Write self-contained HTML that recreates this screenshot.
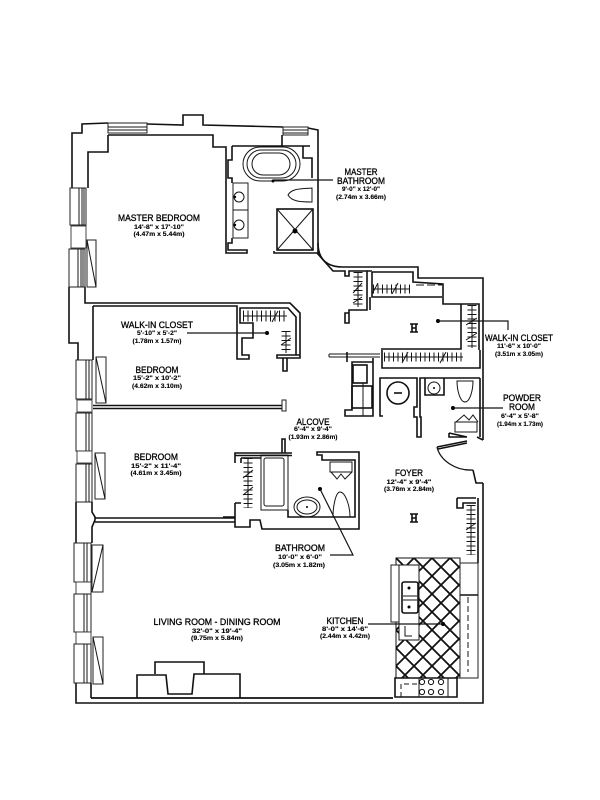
<!DOCTYPE html>
<html><head><meta charset="utf-8"><style>
html,body{margin:0;padding:0;background:#fff;width:600px;height:800px;overflow:hidden}
svg{display:block;filter:blur(.3px)}
.w{fill:none;stroke:#111;stroke-width:1.6;stroke-linejoin:miter}
.t{fill:none;stroke:#151515;stroke-width:1}
.b{fill:#fff;stroke:#222;stroke-width:1}
.p{fill:#fff;stroke:#333;stroke-width:.9}
.r{fill:none;stroke:#151515;stroke-width:9;stroke-dasharray:1 3.5}
.r2{fill:none;stroke:#151515;stroke-width:1}
text{font-family:"Liberation Sans",sans-serif;fill:#000;text-anchor:middle}
.h{font-size:9px;stroke:#000;stroke-width:.3}
.s{font-size:6px;font-weight:bold;stroke:#000;stroke-width:.1}
</style></head><body>
<svg width="600" height="800" viewBox="0 0 600 800" xmlns="http://www.w3.org/2000/svg">
<defs><pattern id="x" width="18" height="18" patternUnits="userSpaceOnUse" patternTransform="translate(396 558)">
<path d="M0 0L18 18M18 0L0 18" stroke="#111" stroke-width="1.8" fill="none"/></pattern></defs>
<rect width="600" height="800" fill="#fff"/>

<!-- outer walls -->
<path class="w" d="M72 188V133H82V124L108 123M147 124L183 125V115H203V125L283 127M308 128L318 130V243Q318 267 343 267H418V278H483V440M483 483V703H76V683M76 502V543M69 287V343H78V360"/>
<path class="w" d="M473 470L476 483H483"/>
<path class="w" style="stroke-width:1.8" d="M91 698H393"/>
<!-- master bedroom inner -->
<path class="w" d="M108 135V152H88V188M108 135H213V147H226V253H247V250H228V243H232V238M85 287V303H290L300 313V355H277V358H300V355"/>
<path class="w" d="M93 306H237V359H249V355H242V338H253V323H240V308H288L296 317V355M93 306V360M283 358V371H287V358"/>

<!-- master bedroom windows -->
<rect class="b" x="70" y="188" width="16" height="37"/><path class="t" d="M79 188V225M82 188V225M84 188V225"/>
<rect class="p" x="71" y="226" width="15" height="22"/>
<rect class="b" x="69" y="249" width="16" height="38"/><path class="t" d="M78 249V287M81 249V287M83 249V287"/>
<rect class="b" x="87" y="240" width="9" height="47"/><path class="t" d="M87 240L96 287"/>
<rect class="b" x="108" y="123" width="39" height="10"/><path class="t" d="M108 127H147M108 130H147"/>
<rect class="b" x="283" y="127" width="25" height="8"/><path class="t" d="M283 130H308M283 133H308"/>

<!-- bedroom windows -->
<rect class="b" x="76" y="360" width="16" height="39"/><path class="t" d="M86 360V399M89 360V399"/>
<rect class="p" x="77" y="400" width="15" height="12"/>
<rect class="b" x="76" y="413" width="16" height="38"/><path class="t" d="M86 413V451M89 413V451"/>
<rect class="p" x="77" y="451" width="15" height="12"/>
<rect class="b" x="76" y="464" width="16" height="38"/><path class="t" d="M86 464V502M89 464V502"/>
<rect class="b" x="96" y="357" width="10" height="46"/><path class="t" d="M96 357L106 403"/>
<rect class="b" x="95" y="453" width="10" height="46"/><path class="t" d="M95 453L105 499"/>
<path class="w" d="M92 502V512L95 517V520L92 527V543"/>
<!-- living windows -->
<rect class="b" x="74" y="543" width="17" height="39"/><path class="t" d="M84 543V582M87 543V582"/>
<rect class="p" x="76" y="582" width="15" height="12"/>
<rect class="b" x="74" y="594" width="17" height="38"/><path class="t" d="M84 594V632M87 594V632"/>
<rect class="p" x="76" y="632" width="15" height="12"/>
<rect class="b" x="74" y="644" width="17" height="39"/><path class="t" d="M84 644V683M87 644V683"/>
<rect class="b" x="92" y="545" width="11" height="47"/><path class="t" d="M103 545L92 592"/>
<rect class="b" x="93" y="637" width="10" height="47"/><path class="t" d="M93 637L103 684"/>
<path class="w" d="M91 683V698"/>

<!-- partitions -->
<path class="w" d="M93 405.5H282M93 408.5H282"/>
<rect class="b" x="282" y="400" width="4" height="11"/>
<path class="w" d="M95 518H235M95 522H235"/>

<!-- fireplace -->
<path class="w" d="M137 698V675H166L168 694H192L194 674H240V698M155 674V662H204V674"/>

<!-- master bath -->
<path class="w" d="M232 146H310M282 135V146M232 146V160H228V178H232V183M318 243V253H274V251"/>
<path class="w" d="M303 146V158H312V178"/>
<rect class="b" x="233" y="183" width="15" height="55"/><path class="t" d="M233 210H248"/>
<circle class="t" cx="239" cy="197" r="5"/><circle class="t" cx="239" cy="225" r="5"/>
<circle cx="235" cy="197" r="1.2"/><circle cx="235" cy="225" r="1.2"/>
<rect class="t" x="243" y="147" width="57" height="34" rx="17"/>
<rect class="t" x="247" y="150" width="49" height="28" rx="14"/>
<rect class="t" x="252" y="153" width="38" height="22" rx="11"/>
<circle cx="273" cy="181" r="1.5"/>
<path class="t" d="M288 195C292 188 302 189 312 188V202C302 202 292 202 288 195Z"/>
<path class="r2" style="stroke-width:1.2" d="M273 180H333"/>
<rect class="w" x="277" y="209" width="36" height="41"/><path class="t" d="M277 209L313 250M313 209L277 250"/><circle cx="295" cy="231" r="2.5"/>

<!-- central closets -->
<path class="w" d="M317 253L333 271H345V276H349V271H367V310H349V313H345V323H349V313M372 272H413V282L443 284V304H479V350M372 272V297H442"/>
<path class="w" d="M367 271H372M370 297V310"/>
<path class="w" d="M461 304V349H381M382 350V368H480V350"/>
<path class="t" d="M329 354H380M329 357H380M329 354V357"/>
<path class="w" d="M347 352V362"/>
<path class="r" d="M358 272V307"/><path class="r2" d="M358 272V307M353 293L362 283M353 303L362 297"/>
<path class="r" d="M373 289H410"/><path class="r2" d="M373 289H410M372 294L378 283M392 294L398 283"/>
<path class="t" stroke-dasharray="8 3" d="M416 285H442"/>
<path class="r" d="M472 305V348"/><path class="r2" d="M472 305V348M466 325L477 318M466 340L477 333"/>
<path class="r" d="M384 357H463"/><path class="r2" d="M384 357H463M402 363L408 352M440 363L446 352"/>
<path class="r" d="M243 316H287" style="stroke-width:11"/><path class="r2" d="M243 316H287M272 322L278 311"/>
<path class="r" d="M286 331V353"/><path class="r2" d="M286 331V353M281 345L291 338"/>

<!-- laundry -->
<path class="w" d="M373 358V416H345V410H352V362H373"/>
<rect class="w" x="353" y="365" width="14" height="18"/>
<rect class="w" x="352" y="386" width="20" height="22"/>
<path class="t" d="M363 383V416"/>

<!-- hall closet & powder -->
<path class="w" d="M383 416H380V378H417V407H414V417H417V437H421V417H420V378H480M425 378V395H444V378"/>
<circle class="w" cx="398" cy="393" r="11"/><path class="w" d="M394 393H402"/>
<circle class="t" cx="434" cy="388" r="6"/><circle cx="434" cy="388" r="1"/>
<path class="t" d="M457 381H473C473 390 470 402 465 402C460 402 457 390 457 381Z"/>
<path class="w" d="M480 378V437M449 433L467 437M449 433V437H467M477 437L483 440"/>
<path class="t" d="M455 422H477V432H455ZM456 422L464 415L469 420L473 415L478 422"/>
<circle cx="453" cy="408" r="2"/><path class="r2" style="stroke-width:1.2" d="M453 408H503"/>
<!-- door -->
<path class="w" d="M437 447L467 441M438 449L467 443"/>
<path class="t" style="stroke-width:1.3" d="M437 447C440 460 455 471 473 470"/>

<!-- bathroom -->
<path class="w" d="M235 463V453H292M235 455.5H292"/>
<path class="w" d="M282 453V439H285V453M241 458H261M241 458V463"/>
<rect class="t" x="261" y="455" width="27" height="55"/>
<rect class="t" x="264" y="458" width="20" height="48" rx="2"/>
<path class="w" d="M288 510V517H355V460H322V455H317V452H359V529H262L260 520H250V527H235V503"/>
<path class="w" d="M235 503H241M223 517H235"/>
<ellipse class="t" cx="307" cy="507" rx="13" ry="10"/><ellipse class="t" cx="307" cy="507" rx="10" ry="7"/><circle cx="307" cy="507" r="1"/>
<path class="t" d="M333 517C333 505 336 492 340 492C345 492 350 505 350 517Z"/>
<path class="t" d="M330 462H352V472H330ZM331 472L337 479L341 474L345 479L352 472"/>
<path class="r" d="M248 458V508"/><path class="r2" d="M248 458V508M243 478L253 470M243 495L253 487"/>
<circle cx="320" cy="489" r="2"/>
<path class="r2" style="stroke-width:1.2" d="M320 489L353 555H330"/>

<!-- kitchen -->
<path class="w" d="M457 498V508H463V503H476M457 498H476M478 498V563"/>
<path class="r" d="M471 505V555"/><path class="r2" d="M471 505V555M466 530L476 523"/>
<rect x="396" y="558" width="64" height="120" fill="url(#x)" stroke="#111" stroke-width="1"/>
<rect class="b" x="460" y="563" width="18" height="115"/>
<path class="w" d="M460 595H478"/>
<path class="t" stroke-dasharray="6 3" d="M468 597V672"/>
<rect class="b" x="391" y="565" width="8" height="57"/>
<rect x="399" y="565" width="20" height="75" fill="#fff" stroke="#151515" stroke-width="1"/>
<path class="t" stroke-dasharray="5 3" d="M399 568V640"/>
<rect class="w" x="402" y="582" width="16" height="31" rx="2"/>
<path class="t" d="M403 596H417M403 600H417"/><circle cx="409" cy="588" r="1.5"/><circle cx="409" cy="607" r="1.5"/>
<path class="t" d="M405 626V636H412"/>
<path class="w" d="M457 678V697H395V678H457"/>
<rect class="t" x="419" y="678" width="29" height="19"/>
<g fill="none" stroke="#111" stroke-width="1"><circle cx="422" cy="682" r="2.6"/><circle cx="431" cy="682" r="2.6"/><circle cx="441" cy="682" r="2.6"/><circle cx="422" cy="692" r="2.6"/><circle cx="431" cy="692" r="2.6"/><circle cx="441" cy="692" r="2.6"/></g>
<path class="t" stroke-dasharray="5 3" d="M401 697V684H419"/>
<circle cx="443" cy="624" r="2"/><path class="r2" style="stroke-width:1.2" d="M368 624H443"/>

<!-- marks -->
<path class="w" d="M410 324H414M410 332H414M412 324V332M416 328H412M414 324H418M414 332H418M416 324V332"/>
<path class="w" d="M410 514H414M410 522H414M412 514V522M416 518H412M414 514H418M414 522H418M416 514V522"/>

<!-- leaders -->
<circle cx="267" cy="333" r="2"/><path class="r2" style="stroke-width:1.2" d="M187 333H267"/>
<circle cx="438" cy="321" r="2"/><path class="r2" style="stroke-width:1.2" d="M438 321H508V330"/>

<!-- labels -->
<text class="h" x="159" y="221" textLength="82" lengthAdjust="spacingAndGlyphs">MASTER BEDROOM</text>
<text class="s" x="159" y="229" textLength="50" lengthAdjust="spacingAndGlyphs">14'-8" x 17'-10"</text>
<text class="s" x="159" y="236" textLength="51" lengthAdjust="spacingAndGlyphs">(4.47m x 5.44m)</text>
<text class="h" x="361" y="175" textLength="33" lengthAdjust="spacingAndGlyphs">MASTER</text>
<text class="h" x="361" y="184" textLength="48" lengthAdjust="spacingAndGlyphs">BATHROOM</text>
<text class="s" x="361" y="191" textLength="38" lengthAdjust="spacingAndGlyphs">9'-0" x 12'-0"</text>
<text class="s" x="361" y="199" textLength="50" lengthAdjust="spacingAndGlyphs">(2.74m x 3.66m)</text>
<text class="h" x="157" y="328" textLength="72" lengthAdjust="spacingAndGlyphs">WALK-IN CLOSET</text>
<text class="s" x="157" y="335" textLength="40" lengthAdjust="spacingAndGlyphs">5'-10" x 5'-2"</text>
<text class="s" x="157" y="343" textLength="49" lengthAdjust="spacingAndGlyphs">(1.78m x 1.57m)</text>
<text class="h" x="157" y="373" textLength="43" lengthAdjust="spacingAndGlyphs">BEDROOM</text>
<text class="s" x="157" y="380" textLength="48" lengthAdjust="spacingAndGlyphs">15'-2" x 10'-2"</text>
<text class="s" x="157" y="388" textLength="50" lengthAdjust="spacingAndGlyphs">(4.62m x 3.10m)</text>
<text class="h" x="156" y="460" textLength="44" lengthAdjust="spacingAndGlyphs">BEDROOM</text>
<text class="s" x="156" y="468" textLength="50" lengthAdjust="spacingAndGlyphs">15'-2" x 11'-4"</text>
<text class="s" x="156" y="475" textLength="51" lengthAdjust="spacingAndGlyphs">(4.61m x 3.45m)</text>
<text class="h" x="313" y="425" textLength="33" lengthAdjust="spacingAndGlyphs">ALCOVE</text>
<text class="s" x="313" y="431" textLength="38" lengthAdjust="spacingAndGlyphs">6'-4" x 9'-4"</text>
<text class="s" x="313" y="439" textLength="49" lengthAdjust="spacingAndGlyphs">(1.93m x 2.86m)</text>
<text class="h" x="409" y="476" textLength="28" lengthAdjust="spacingAndGlyphs">FOYER</text>
<text class="s" x="409" y="484" textLength="45" lengthAdjust="spacingAndGlyphs">12'-4" x 9'-4"</text>
<text class="s" x="409" y="491" textLength="50" lengthAdjust="spacingAndGlyphs">(3.76m x 2.84m)</text>
<text class="h" x="522" y="401" textLength="38" lengthAdjust="spacingAndGlyphs">POWDER</text>
<text class="h" x="522" y="410" textLength="26" lengthAdjust="spacingAndGlyphs">ROOM</text>
<text class="s" x="520" y="418" textLength="38" lengthAdjust="spacingAndGlyphs">6'-4" x 5'-8"</text>
<text class="s" x="520" y="426" textLength="46" lengthAdjust="spacingAndGlyphs">(1.94m x 1.73m)</text>
<text class="h" x="519" y="341" textLength="68" lengthAdjust="spacingAndGlyphs">WALK-IN CLOSET</text>
<text class="s" x="519" y="348" textLength="44" lengthAdjust="spacingAndGlyphs">11'-6" x 10'-0"</text>
<text class="s" x="519" y="356" textLength="48" lengthAdjust="spacingAndGlyphs">(3.51m x 3.05m)</text>
<text class="h" x="300" y="551" textLength="50" lengthAdjust="spacingAndGlyphs">BATHROOM</text>
<text class="s" x="300" y="559" textLength="44" lengthAdjust="spacingAndGlyphs">10'-0" x 6'-0"</text>
<text class="s" x="299" y="567" textLength="52" lengthAdjust="spacingAndGlyphs">(3.05m x 1.82m)</text>
<text class="h" x="217" y="625" textLength="127" lengthAdjust="spacingAndGlyphs">LIVING ROOM - DINING ROOM</text>
<text class="s" x="217" y="633" textLength="50" lengthAdjust="spacingAndGlyphs">32'-0" x 19'-4"</text>
<text class="s" x="217" y="640" textLength="52" lengthAdjust="spacingAndGlyphs">(9.75m x 5.84m)</text>
<text class="h" x="345" y="624" textLength="37" lengthAdjust="spacingAndGlyphs">KITCHEN</text>
<text class="s" x="345" y="631" textLength="46" lengthAdjust="spacingAndGlyphs">8'-0" x 14'-6"</text>
<text class="s" x="345" y="638" textLength="50" lengthAdjust="spacingAndGlyphs">(2.44m x 4.42m)</text>
</svg>
</body></html>
